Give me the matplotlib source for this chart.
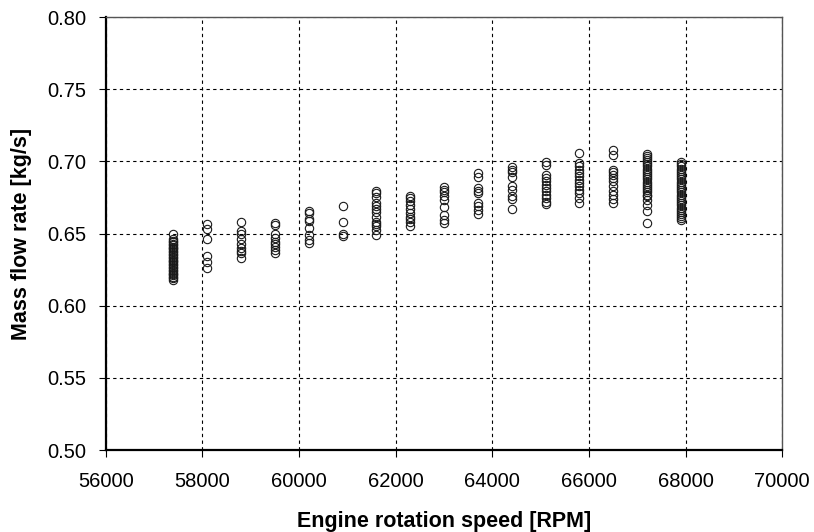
import matplotlib
matplotlib.use("Agg")
import matplotlib.pyplot as plt

plt.rcParams['font.family'] = ['Liberation Sans', 'DejaVu Sans']

# Engine speed (RPM) for each measurement group
speeds = [57400, 58100, 58800, 59500, 60200, 60900, 61600, 62300,
          63000, 63700, 64400, 65100, 65800, 66500, 67200, 67900]

# Mass flow rate values [kg/s] for each group
flows = [
    [0.6495, 0.646, 0.645, 0.644, 0.643, 0.642, 0.641, 0.640, 0.639, 0.638,
     0.637, 0.636, 0.635, 0.634, 0.633, 0.632, 0.631, 0.630, 0.629, 0.628,
     0.627, 0.626, 0.625, 0.624, 0.623, 0.622, 0.621, 0.620, 0.619, 0.618],
    [0.6565, 0.653, 0.646, 0.6345, 0.630, 0.626],
    [0.6583, 0.652, 0.650, 0.646, 0.643, 0.640, 0.638, 0.6363, 0.6333],
    [0.6575, 0.656, 0.6495, 0.6468, 0.6444, 0.6426, 0.641, 0.6387, 0.6363],
    [0.6657, 0.664, 0.660, 0.6588, 0.6537, 0.649, 0.6456, 0.6437],
    [0.6692, 0.6583, 0.6495, 0.6484],
    [0.6796, 0.678, 0.675, 0.671, 0.669, 0.667, 0.6646, 0.6618, 0.6583,
     0.6565, 0.6549, 0.6525, 0.6491],
    [0.6762, 0.6745, 0.6727, 0.6699, 0.667, 0.6641, 0.6618, 0.660, 0.6583, 0.6553],
    [0.682, 0.6803, 0.6785, 0.6762, 0.6734, 0.6687, 0.663, 0.6595, 0.6572],
    [0.6919, 0.6891, 0.6815, 0.6796, 0.678, 0.6711, 0.6688, 0.6664, 0.6634],
    [0.6958, 0.6942, 0.6924, 0.6889, 0.6826, 0.6803, 0.6762, 0.6738, 0.6671],
    [0.6993, 0.6972, 0.6907, 0.6884, 0.6861, 0.6838, 0.6815, 0.6792, 0.6769,
     0.6745, 0.6722, 0.6704],
    [0.7058, 0.6988, 0.6965, 0.6942, 0.6919, 0.6896, 0.6873, 0.685, 0.6826,
     0.6803, 0.678, 0.6745, 0.6715],
    [0.7076, 0.7042, 0.6942, 0.6924, 0.6907, 0.6884, 0.6861, 0.6826, 0.6796,
     0.6769, 0.6741, 0.6715],
    [0.7051, 0.704, 0.7025, 0.701, 0.6995, 0.698, 0.6965, 0.695, 0.6935, 0.692,
     0.6905, 0.689, 0.6875, 0.686, 0.6845, 0.683, 0.6815, 0.680, 0.6785, 0.677,
     0.6757, 0.6734, 0.6699, 0.6653, 0.6572],
    [0.6995, 0.698, 0.6965, 0.695, 0.6935, 0.692, 0.6905, 0.689, 0.6875, 0.686,
     0.6845, 0.683, 0.6815, 0.680, 0.6785, 0.677, 0.6755, 0.674, 0.6725, 0.671,
     0.6695, 0.668, 0.6665, 0.665, 0.6635, 0.662, 0.661, 0.6595],
]

xticks = [56000, 58000, 60000, 62000, 64000, 66000, 68000, 70000]
yticks = [0.50, 0.55, 0.60, 0.65, 0.70, 0.75, 0.80]

fig = plt.figure(figsize=(8.14, 5.32), dpi=100)
ax = fig.add_axes([0.130, 0.154, 0.831, 0.814])

xs, ys = [], []
for s, vals in zip(speeds, flows):
    xs.extend([s] * len(vals))
    ys.extend(vals)
ax.plot(xs, ys, linestyle='none', marker='o', markersize=6,
        markerfacecolor='none', markeredgecolor='#1a1a1a', markeredgewidth=0.8,
        zorder=3)

ax.set_xlim(56000, 70000)
ax.set_ylim(0.50, 0.80)
ax.set_xticks(xticks)
ax.set_xticklabels([str(t) for t in xticks])
ax.set_yticks(yticks)
ax.set_yticklabels([f"{t:.2f}" for t in yticks])

ax.grid(True, linestyle=(0, (3, 3)), color='black', linewidth=0.8)
ax.set_axisbelow(True)

ax.spines['left'].set_linewidth(1.6)
ax.spines['left'].set_color('black')
ax.spines['bottom'].set_linewidth(1.6)
ax.spines['bottom'].set_color('black')
ax.spines['top'].set_linewidth(1.0)
ax.spines['top'].set_color('#555555')
ax.spines['right'].set_linewidth(1.0)
ax.spines['right'].set_color('#555555')

ax.tick_params(axis='both', direction='out', length=5, width=0.8,
               labelsize=14.5, colors='black')
ax.tick_params(axis='x', pad=11)
ax.tick_params(axis='y', pad=9)

ax.set_xlabel('Engine rotation speed [RPM]', fontsize=15.5, fontweight='bold',
              labelpad=14)
ax.set_ylabel('Mass flow rate [kg/s]', fontsize=15.5, fontweight='bold',
              labelpad=11)

fig.savefig('out.png', dpi=100)
